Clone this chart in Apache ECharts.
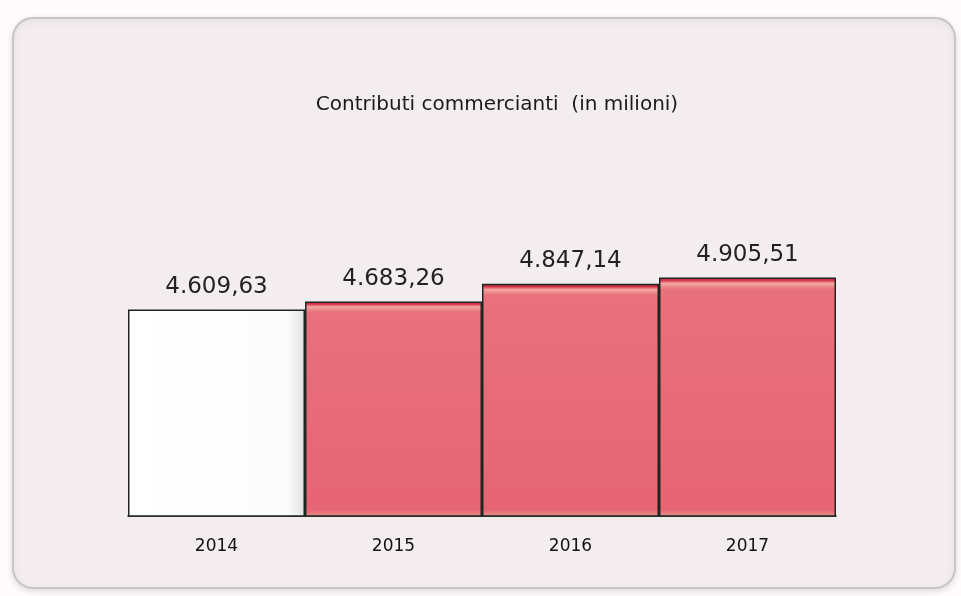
<!DOCTYPE html>
<html>
<head>
<meta charset="utf-8">
<script src="https://cdn.jsdelivr.net/npm/echarts@6/dist/echarts.min.js"></script>
<style>
  html, body { margin: 0; padding: 0; background: #fdfbfc; }
  #chart { width: 961px; height: 596px; }
</style>
</head>
<body>
<div id="chart"></div>
<script>
// anni e contributi (milioni di euro)
const years = ['2014', '2015', '2016', '2017'];
const contributi = [4609.63, 4683.26, 4847.14, 4905.51];
const chartTitle = 'Contributi commercianti  (in milioni)';

// formato italiano: 4.609,63
const fmtIt = (v) => {
  const parts = v.toFixed(2).split('.');
  return parts[0].replace(/\B(?=(\d{3})+(?!\d))/g, '.') + ',' + parts[1];
};

const redFill = {
  type: 'linear', x: 0, y: 0, x2: 0, y2: 1,
  colorStops: [
    { offset: 0, color: '#d62f4a' },
    { offset: 0.012, color: '#d62f4a' },
    { offset: 0.025, color: '#f3a6a0' },
    { offset: 0.05, color: '#e9707d' },
    { offset: 0.97, color: '#e66574' },
    { offset: 1, color: '#e3958a' }
  ]
};
const whiteFill = {
  type: 'linear', x: 0, y: 0, x2: 1, y2: 0,
  colorStops: [
    { offset: 0, color: '#ffffff' },
    { offset: 0.9, color: '#fcfcfc' },
    { offset: 1, color: '#e2e0e1' }
  ]
};

const barData = contributi.map((v, i) => ({
  value: v,
  itemStyle: {
    color: i === 0 ? whiteFill : redFill,
    borderColor: '#1e2620',
    borderWidth: 1.5
  }
}));

const chart = echarts.init(document.getElementById('chart'));
chart.setOption({
  backgroundColor: '#fdfbfc',
  animation: false,
  graphic: [{
    type: 'rect',
    z: -10,
    shape: { x: 13, y: 18, width: 942, height: 570, r: 20 },
    style: {
      fill: '#f3edf0',
      stroke: '#c9c3c6',
      lineWidth: 2,
      shadowBlur: 6,
      shadowColor: 'rgba(0,0,0,0.12)',
      shadowOffsetY: 2
    }
  }],
  title: {
    text: chartTitle,
    left: 492,
    top: 90,
    textAlign: 'center',
    textStyle: {
      fontFamily: 'DejaVu Sans',
      fontSize: 20,
      fontWeight: 'normal',
      color: '#1a1a1a'
    }
  },
  grid: { left: 128, right: 125, top: 159, bottom: 80 },
  xAxis: {
    type: 'category',
    data: years,
    axisLine: { show: true, lineStyle: { color: '#111', width: 1.5 } },
    axisTick: { show: false },
    axisLabel: {
      margin: 22,
      fontFamily: 'DejaVu Sans',
      fontSize: 17,
      color: '#111'
    }
  },
  yAxis: {
    type: 'value',
    min: 2700,
    max: 6000,
    show: false,
    splitLine: { show: false }
  },
  series: [{
    type: 'bar',
    data: barData,
    barWidth: '100%',
    barCategoryGap: 0,
    label: {
      show: true,
      position: 'top',
      distance: 11,
      formatter: (p) => fmtIt(p.value),
      fontFamily: 'DejaVu Sans',
      fontSize: 23,
      color: '#222'
    }
  }]
});
</script>
</body>
</html>
